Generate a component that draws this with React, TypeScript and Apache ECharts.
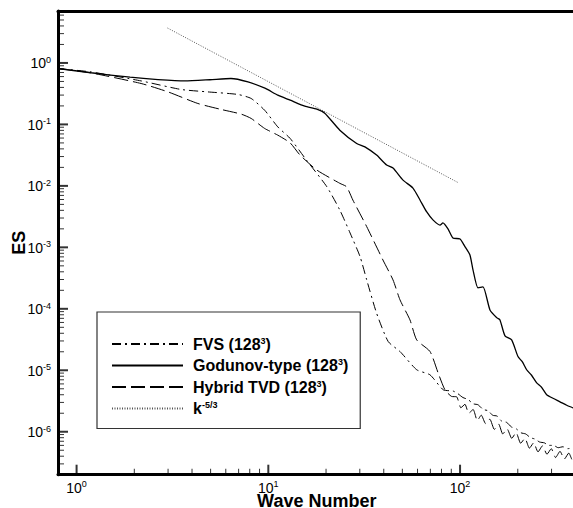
import React, { useEffect, useRef } from 'react';
import * as echarts from 'echarts';

// ---- axis ticks ----
const xMajor = [1, 10, 100];
const xMinorMult = [2, 3, 4, 5, 6, 7, 8, 9];
const xMinorDecades = [1, 10, 100];
const yMajor = [1e-6, 1e-5, 1e-4, 1e-3, 1e-2, 1e-1, 1];
const yMinorMult = [2, 3, 4, 5, 6, 7, 8, 9];
const yMinorDecades = [1e-7, 1e-6, 1e-5, 1e-4, 1e-3, 1e-2, 1e-1, 1];

// ---- data ----
const godK = [0.8, 1.19, 1.9, 2.66, 3.67, 4.96, 6.38, 7.83, 9.6, 11.2, 13.0, 15.5, 17.9, 19.7, 23.6, 28.9, 31.9, 36.7, 41.4, 44.7, 50.4, 56.8, 61.8, 66.9, 72.2, 78.6, 81.4, 86.5, 91.8, 100, 106, 112.6, 116.8, 124, 131.7, 143.2, 155.8, 161.5, 171.5, 185.8, 200.5, 211, 222.5, 236, 251, 266, 283, 305, 332, 360, 388, 400];
const godE = [0.811, 0.693, 0.586, 0.537, 0.51, 0.533, 0.558, 0.491, 0.388, 0.299, 0.248, 0.198, 0.177, 0.152, 0.0806, 0.049, 0.0432, 0.0317, 0.0218, 0.0195, 0.0124, 0.0092, 0.0059, 0.0038, 0.0028, 0.0023, 0.0025, 0.002, 0.00142, 0.00137, 0.00103, 0.00075, 0.00043, 0.000219, 0.000227, 0.000096, 0.0000711, 0.000066, 0.0000363, 0.0000312, 0.0000167, 0.0000138, 0.0000102, 0.0000083, 0.00000625, 0.0000053, 0.000004, 0.0000035, 0.00000307, 0.0000027, 0.00000245, 0.00000235];

const fvsK = [0.8, 1.19, 2.17, 3.51, 4.84, 6.94, 8.14, 9.57, 11.2, 13.0, 15.8, 20.2, 23.6, 26.7, 30.1, 32.6, 36.7, 42.2, 48.6, 59.4, 69.7, 81.7, 91.8, 97, 103.5, 110, 117, 124, 132, 140, 148, 156, 165, 175, 185, 196, 208, 220, 233, 246, 260, 275, 290, 307, 325, 344, 364, 388, 400];
const fvsE = [0.811, 0.714, 0.51, 0.37, 0.338, 0.307, 0.264, 0.17, 0.0912, 0.0591, 0.0263, 0.00967, 0.00404, 0.00171, 0.000705, 0.000295, 0.0000848, 0.0000293, 0.0000202, 0.0000102, 0.00000843, 0.00000481, 0.0000046, 0.0000042, 0.0000036, 0.00000335, 0.00000285, 0.00000275, 0.0000023, 0.0000022, 0.00000185, 0.0000018, 0.00000148, 0.00000142, 0.0000012, 0.00000112, 0.00000096, 0.00000092, 0.0000008, 0.00000076, 0.00000068, 0.00000066, 0.0000006, 0.0000006, 0.00000055, 0.00000057, 0.00000053, 0.000000545, 0.00000052];

const hybK = [0.8, 1.19, 2.17, 3.0, 4.29, 5.68, 7.22, 8.14, 9.57, 11.2, 13.0, 14.6, 17.9, 23.6, 25.6, 27.6, 32.6, 39.6, 44.7, 48.6, 54.8, 59.4, 69.7, 76.9, 83.4, 90.4, 96, 101, 106, 111, 117, 123, 129, 136, 143, 151, 159, 167, 176, 186, 196, 207, 218, 230, 242, 255, 269, 284, 299, 315, 332, 350, 369, 388, 400];
const hybE = [0.811, 0.688, 0.463, 0.338, 0.219, 0.175, 0.147, 0.125, 0.0859, 0.0669, 0.05, 0.032, 0.0181, 0.011, 0.00967, 0.00588, 0.00217, 0.000623, 0.000295, 0.00014, 0.000066, 0.0000312, 0.0000202, 0.00000899, 0.00000481, 0.00000375, 0.0000037, 0.00000245, 0.0000028, 0.000002, 0.0000023, 0.00000152, 0.00000186, 0.00000135, 0.0000016, 0.00000109, 0.00000133, 0.00000092, 0.00000111, 0.00000078, 0.00000097, 0.00000065, 0.00000078, 0.00000054, 0.00000066, 0.00000047, 0.00000059, 0.00000043, 0.00000053, 0.00000038, 0.00000048, 0.00000036, 0.00000045, 0.00000033, 0.00000039];

const refK = [2.98, 98.1];
const refE = [3.7, 0.01123];

const legendNames = ['FVS', 'Godunov', 'Hybrid', 'ref'];
const legendLabels: Record<string, string> = {
  FVS: '{f|FVS (128}{u|3}{t|)}',
  Godunov: '{f|Godunov-type (128}{u|3}{t|)}',
  Hybrid: '{f|Hybrid TVD (128}{u|3}{t|)}',
  ref: '{f|k}{u|-5/3}',
};

const X_MIN = 0.8;
const X_MAX = 400;
const Y_MIN = 2e-7;
const Y_MAX = 7;

const zip = (a: number[], b: number[]) => a.map((v, i) => [v, b[i]]);

const FONT = 'Liberation Sans, Arial, sans-serif';

export default function App() {
  const ref = useRef<HTMLDivElement>(null);
  useEffect(() => {
    if (!ref.current) return;
    const chart = echarts.init(ref.current, undefined, { renderer: 'svg' });
    const xMinor: number[] = [];
    xMinorDecades.forEach((d) => xMinorMult.forEach((m) => xMinor.push(m * d)));
    const yMinor: number[] = [];
    yMinorDecades.forEach((d) => yMinorMult.forEach((m) => yMinor.push(parseFloat((m * d).toPrecision(3)))));
    const xMinorIn = xMinor.filter((v) => v > X_MIN && v < X_MAX);
    const yMinorIn = yMinor.filter((v) => v > Y_MIN * 1.01 && v < Y_MAX * 0.99);

    const powLabel = (v: number) => {
      const e = Math.round(Math.log10(v));
      return `{b|10}{s|${e}}`;
    };
    const labelRich = {
      b: { fontSize: 14, fontFamily: FONT, color: '#000', lineHeight: 15, verticalAlign: 'bottom' },
      s: { fontSize: 9, fontFamily: FONT, color: '#000', lineHeight: 10, verticalAlign: 'top' },
    };
    const common = { type: 'log', logBase: 10, splitLine: { show: false }, minorTick: { show: false }, axisTick: { show: false } };
    const lineStyleAxis = { show: true, lineStyle: { color: '#000', width: 3 } };

    const tickSeries = (data: number[][], size: number[], offset: number[]) => ({
      type: 'scatter', data, symbol: 'rect', symbolSize: size, symbolOffset: offset,
      itemStyle: { color: '#000' }, clip: false, silent: true, z: 5,
    });

    chart.setOption({
      animation: false,
      backgroundColor: '#fff',
      grid: { left: 58, right: 14.5, top: 11, bottom: 33.3, containLabel: false, outerBoundsMode: 'none' },
      xAxis: [
        {
          ...common, min: X_MIN, max: X_MAX, position: 'bottom',
          axisLine: lineStyleAxis,
          axisLabel: { show: true, customValues: xMajor, formatter: powLabel, rich: labelRich, margin: 5 },
          name: 'Wave Number', nameLocation: 'middle', nameGap: 20, nameMoveOverlap: false,
          nameTextStyle: { fontSize: 18, fontWeight: 'bold', fontFamily: FONT, color: '#000', lineHeight: 13 },
        },
        {
          ...common, min: X_MIN, max: X_MAX, position: 'top',
          axisLine: lineStyleAxis,
          axisLabel: { show: false },
        },
      ],
      yAxis: [
        {
          ...common, min: Y_MIN, max: Y_MAX, position: 'left',
          axisLine: lineStyleAxis,
          axisLabel: { show: true, customValues: yMajor, formatter: powLabel, rich: labelRich, margin: 7 },
          name: 'ES', nameLocation: 'middle', nameGap: 30, nameRotate: 90, nameMoveOverlap: false,
          nameTextStyle: { fontSize: 18, fontWeight: 'bold', fontFamily: FONT, color: '#000' },
        },
      ],
      legend: {
        data: legendNames,
        orient: 'vertical',
        left: 97,
        top: 312,
        padding: [24, 12, 12, 14],
        itemWidth: 71,
        itemHeight: 14,
        itemGap: 5.5,
        backgroundColor: '#fff',
        borderColor: '#333',
        borderWidth: 1.2,
        borderRadius: 0,
        selectedMode: false,
        itemStyle: { opacity: 0, color: 'rgba(0,0,0,0)', borderWidth: 0 },
        formatter: (n: string) => legendLabels[n],
        textStyle: {
          color: '#000',
          fontFamily: FONT,
          fontWeight: 'bold',
          fontSize: 16,
          rich: {
            f: { fontSize: 16, fontWeight: 'bold', fontFamily: FONT, color: '#000', lineHeight: 16, verticalAlign: 'bottom', padding: [0, 0, 0, 5] },
            t: { fontSize: 16, fontWeight: 'bold', fontFamily: FONT, color: '#000', lineHeight: 16, verticalAlign: 'bottom' },
            u: { fontSize: 9, fontWeight: 'bold', fontFamily: FONT, color: '#000', lineHeight: 9, verticalAlign: 'top' },
          },
        },
      },
      series: [
        {
          name: 'FVS', type: 'line', data: zip(fvsK, fvsE), symbol: 'none', showSymbol: false, smooth: 0.2,
          lineStyle: { color: '#000', width: 1, type: [9, 4, 2, 4] }, itemStyle: { color: '#000' },
        },
        {
          name: 'Godunov', type: 'line', data: zip(godK, godE), symbol: 'none', showSymbol: false, smooth: 0.2,
          lineStyle: { color: '#000', width: 1.3, type: 'solid' }, itemStyle: { color: '#000' },
        },
        {
          name: 'Hybrid', type: 'line', data: zip(hybK, hybE), symbol: 'none', showSymbol: false, smooth: 0.2,
          lineStyle: { color: '#000', width: 1, type: [14, 5] }, itemStyle: { color: '#000' },
        },
        {
          name: 'ref', type: 'line', data: zip(refK, refE), symbol: 'none', showSymbol: false,
          lineStyle: { color: '#555', width: 1, type: [1, 1.5] }, itemStyle: { color: '#555' },
        },
        tickSeries(xMajor.map((v) => [v, Y_MIN]), [2, 10], [0, -5]),
        tickSeries(xMinorIn.map((v) => [v, Y_MIN]), [1, 6], [0, -3]),
        tickSeries(yMajor.map((v) => [X_MIN, v]), [10, 2], [5, 0]),
        tickSeries(yMinorIn.map((v) => [X_MIN, v]), [6, 1], [3, 0]),
      ],
    });
    return () => chart.dispose();
  }, []);

  return (
    <div style={{ position: 'fixed', left: 0, top: 0, width: 573, height: 508, overflow: 'hidden', background: '#fff' }}>
      <div ref={ref} style={{ width: 590, height: 508 }} />
    </div>
  );
}
